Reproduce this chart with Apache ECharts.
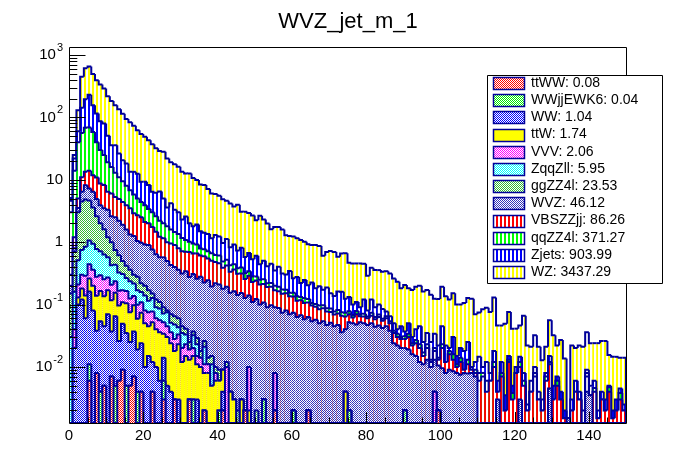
<!DOCTYPE html>
<html>
<head>
<meta charset="utf-8">
<script src="https://cdn.jsdelivr.net/npm/echarts@6/dist/echarts.min.js"></script>
<style>
  html, body { margin: 0; padding: 0; background: #fff; }
  #chart { width: 696px; height: 472px; }
</style>
</head>
<body>
<div id="chart"></div>
<script>
// binning of the histogram: 150 bins of width 1 from 0 to 150
const xMin = 0;
const xMax = 150;
const binWidth = 1;
const yMin = 0.00126;
const yMax = 1343;

const title = 'WVZ_jet_m_1';

// stack order, bottom first
const procNames = ['ttWW', 'WWjjEWK6', 'WW', 'ttW', 'VVV', 'ZqqZll', 'ggZZ4l', 'WVZ', 'VBSZZjj', 'qqZZ4l', 'Zjets', 'WZ'];
const procTotals = [0.08, 0.04, 1.04, 1.74, 2.06, 5.95, 23.53, 46.12, 86.26, 371.27, 903.99, 3437.29];

const ttWW = [
  0, 0, 0, 0, 0, 0.006, 0, 0.008, 0, 0.005,
  0, 0.007, 0, 0.006, 0.009, 0, 0.005, 0.007, 0, 0.004,
  0, 0, 0.004, 0, 0, 0.003, 0, 0, 0.003, 0,
  0, 0, 0.003, 0, 0, 0, 0.002, 0, 0, 0,
  0, 0.002, 0, 0, 0, 0, 0, 0.002, 0, 0,
  0, 0, 0, 0, 0, 0.002, 0, 0, 0, 0,
  0, 0, 0, 0, 0.002, 0, 0, 0, 0, 0,
  0, 0, 0, 0, 0, 0, 0, 0, 0, 0,
  0, 0, 0, 0, 0, 0, 0, 0, 0, 0,
  0, 0, 0, 0, 0, 0, 0, 0, 0, 0.002,
  0, 0, 0, 0, 0, 0, 0, 0, 0, 0,
  0, 0, 0, 0, 0, 0, 0, 0, 0, 0,
  0, 0, 0, 0, 0, 0, 0, 0, 0, 0,
  0, 0, 0, 0, 0, 0, 0, 0, 0, 0,
  0, 0, 0, 0, 0, 0, 0, 0, 0, 0
];
const WWjjEWK6 = [
  0, 0, 0, 0, 0, 0.005, 0, 0, 0.004, 0,
  0, 0, 0.005, 0, 0, 0.005, 0, 0, 0.004, 0,
  0, 0, 0, 0, 0, 0.003, 0, 0, 0, 0,
  0, 0, 0, 0.003, 0, 0, 0, 0, 0, 0,
  0.002, 0, 0, 0, 0, 0, 0, 0, 0, 0,
  0, 0, 0.003, 0, 0, 0, 0, 0, 0, 0,
  0.002, 0, 0, 0, 0, 0, 0, 0, 0, 0,
  0, 0, 0, 0, 0, 0.002, 0, 0, 0, 0,
  0, 0, 0, 0, 0, 0, 0, 0, 0, 0,
  0.002, 0, 0, 0, 0, 0, 0, 0, 0, 0,
  0, 0, 0, 0, 0, 0, 0, 0, 0, 0,
  0, 0, 0, 0, 0, 0, 0, 0, 0, 0,
  0, 0, 0, 0, 0, 0, 0, 0, 0, 0,
  0, 0, 0, 0, 0, 0, 0, 0, 0, 0,
  0, 0, 0, 0, 0, 0, 0, 0, 0, 0
];
const WW = [
  0, 0.02, 0.1, 0.12, 0.06, 0.15, 0.08, 0.03, 0.05, 0.04,
  0.07, 0.03, 0.06, 0.02, 0.04, 0.03, 0.02, 0.03, 0.015, 0.02,
  0.01, 0.015, 0.008, 0.01, 0.006, 0.008, 0.005, 0.004, 0, 0.003,
  0, 0, 0, 0, 0.003, 0, 0, 0, 0, 0,
  0, 0.002, 0, 0, 0, 0, 0, 0, 0, 0,
  0, 0, 0, 0, 0, 0, 0, 0, 0, 0,
  0, 0, 0, 0, 0, 0, 0, 0, 0, 0,
  0, 0, 0, 0, 0, 0, 0, 0, 0, 0,
  0, 0, 0, 0, 0, 0, 0, 0, 0, 0,
  0, 0, 0, 0, 0, 0, 0, 0, 0, 0,
  0, 0, 0, 0, 0, 0, 0, 0, 0, 0,
  0, 0, 0, 0, 0, 0, 0, 0, 0, 0,
  0, 0, 0, 0, 0, 0, 0, 0, 0, 0,
  0, 0, 0, 0, 0, 0, 0, 0, 0, 0,
  0, 0, 0, 0, 0, 0, 0, 0, 0, 0
];
const ttW = [
  0, 0, 0.03, 0.06, 0.08, 0.1, 0.12, 0.1, 0.11, 0.09,
  0.1, 0.08, 0.09, 0.07, 0.06, 0.07, 0.05, 0.06, 0.04, 0.05,
  0.04, 0.03, 0.04, 0.03, 0.03, 0.02, 0.025, 0.02, 0.015, 0.02,
  0.012, 0.015, 0.01, 0.012, 0.008, 0.01, 0.006, 0.008, 0.005, 0.006,
  0.004, 0.005, 0, 0.004, 0.003, 0, 0.003, 0, 0.002, 0,
  0, 0, 0, 0, 0, 0, 0, 0, 0, 0,
  0, 0, 0, 0, 0, 0, 0, 0, 0, 0,
  0, 0, 0, 0, 0.004, 0, 0, 0, 0, 0,
  0, 0, 0, 0, 0, 0, 0, 0, 0, 0,
  0, 0, 0, 0, 0, 0, 0, 0, 0, 0,
  0, 0, 0, 0, 0, 0, 0, 0, 0, 0,
  0, 0, 0, 0, 0, 0, 0, 0, 0, 0,
  0, 0, 0, 0, 0, 0, 0, 0, 0, 0,
  0, 0, 0, 0, 0, 0, 0, 0, 0, 0,
  0, 0, 0, 0, 0, 0, 0, 0, 0, 0
];
const VVV = [
  0, 0.02, 0.08, 0.12, 0.15, 0.18, 0.16, 0.14, 0.13, 0.12,
  0.1, 0.09, 0.08, 0.07, 0.06, 0.06, 0.05, 0.04, 0.04, 0.035,
  0.03, 0.03, 0.025, 0.02, 0.02, 0.018, 0.015, 0.012, 0.01, 0.01,
  0.008, 0.008, 0.006, 0.005, 0.004, 0.004, 0.003, 0.003, 0, 0.002,
  0, 0, 0.01, 0, 0, 0, 0, 0, 0.008, 0,
  0, 0, 0, 0, 0, 0.006, 0, 0, 0, 0,
  0, 0, 0, 0, 0, 0, 0, 0, 0, 0,
  0, 0, 0, 0, 0, 0, 0, 0, 0, 0,
  0, 0, 0, 0, 0, 0, 0, 0, 0, 0,
  0, 0, 0, 0, 0, 0, 0, 0, 0.004, 0,
  0, 0, 0, 0, 0, 0, 0, 0, 0, 0,
  0, 0, 0, 0, 0, 0, 0, 0, 0, 0,
  0, 0, 0, 0, 0, 0, 0, 0, 0, 0,
  0, 0, 0, 0, 0, 0, 0, 0, 0, 0,
  0, 0, 0, 0, 0, 0, 0, 0, 0, 0
];
const ZqqZll = [
  0.03, 0.12, 0.3, 0.45, 0.55, 0.62, 0.58, 0.5, 0.42, 0.38,
  0.3, 0.22, 0.2, 0.16, 0.14, 0.1, 0.11, 0.08, 0.07, 0.05,
  0.06, 0.04, 0.05, 0.03, 0.03, 0.02, 0.03, 0.015, 0.02, 0.01,
  0.015, 0.01, 0, 0.012, 0.008, 0, 0.01, 0, 0.006, 0,
  0, 0, 0, 0, 0, 0, 0, 0, 0, 0,
  0, 0, 0, 0, 0, 0, 0, 0, 0, 0,
  0, 0, 0, 0, 0, 0, 0, 0, 0, 0,
  0, 0, 0, 0, 0, 0, 0, 0, 0, 0,
  0, 0, 0, 0, 0, 0, 0, 0, 0, 0,
  0, 0, 0, 0, 0, 0, 0, 0, 0, 0,
  0, 0, 0, 0, 0, 0, 0, 0, 0, 0,
  0, 0, 0, 0, 0, 0, 0, 0, 0, 0,
  0, 0, 0, 0, 0, 0, 0, 0, 0, 0,
  0, 0, 0, 0, 0, 0, 0, 0, 0, 0,
  0, 0, 0, 0, 0, 0, 0, 0, 0, 0
];
const ggZZ4l = [
  0.12, 0.54, 2.5, 3.75, 4.0, 3.6, 2.66, 1.82, 1.29, 0.97,
  0.63, 0.57, 0.31, 0.29, 0.19, 0.155, 0.125, 0.083, 0.11, 0.061,
  0.06, 0.055, 0.023, 0.03, 0.024, 0.018, 0.005, 0.019, 0.017, 0.017,
  0.01, 0.008, 0.006, 0.005, 0.006, 0.004, 0.005, 0.003, 0.004, 0.002,
  0.003, 0, 0.002, 0, 0, 0.002, 0, 0, 0, 0,
  0.002, 0, 0, 0, 0, 0, 0, 0, 0, 0,
  0, 0, 0, 0, 0, 0, 0, 0, 0, 0,
  0, 0, 0, 0, 0, 0, 0, 0, 0, 0,
  0, 0, 0, 0, 0, 0, 0, 0, 0, 0,
  0, 0, 0, 0, 0, 0, 0, 0, 0, 0,
  0, 0, 0, 0, 0, 0, 0, 0, 0, 0,
  0, 0, 0, 0, 0, 0, 0, 0, 0, 0,
  0, 0, 0, 0, 0, 0, 0, 0, 0, 0,
  0, 0, 0, 0, 0, 0, 0, 0, 0, 0,
  0, 0, 0, 0, 0, 0, 0, 0, 0, 0
];
const WVZ = [
  0.05, 0.1, 0.5, 1.9, 3.3, 2.6, 2.8, 2.3, 1.9, 1.9,
  2.1, 1.6, 1.75, 1.58, 1.4, 1.18, 0.97, 0.95, 0.76, 0.76,
  0.72, 0.73, 0.61, 0.52, 0.46, 0.48, 0.42, 0.36, 0.335, 0.3,
  0.27, 0.3, 0.25, 0.27, 0.23, 0.26, 0.2, 0.23, 0.18, 0.21,
  0.2, 0.17, 0.18, 0.15, 0.16, 0.14, 0.15, 0.125, 0.13, 0.11,
  0.12, 0.1, 0.105, 0.09, 0.097, 0.082, 0.088, 0.074, 0.08, 0.07,
  0.072, 0.063, 0.067, 0.058, 0.061, 0.054, 0.057, 0.05, 0.054, 0.047,
  0.051, 0.045, 0.047, 0.036, 0.036, 0.05, 0.05, 0.048, 0.052, 0.05,
  0.047, 0.05, 0.044, 0.046, 0.042, 0.045, 0.038, 0.024, 0.022, 0.02,
  0.018, 0.019, 0.016, 0.015, 0.012, 0.011, 0.013, 0.01, 0.009, 0.0085,
  0.0095, 0.008, 0.009, 0.0085, 0.008, 0.0075, 0.008, 0.0078, 0.008, 0.007,
  0, 0, 0, 0, 0, 0.003, 0, 0, 0, 0,
  0, 0.003, 0, 0, 0, 0, 0, 0, 0, 0.0045,
  0, 0, 0, 0, 0.0015, 0, 0, 0, 0, 0.004,
  0.0035, 0, 0, 0, 0, 0, 0, 0, 0, 0
];
const VBSZZjj = [
  0.1, 0.4, 1.5, 4.6, 5.3, 6.7, 5.4, 6.0, 4.8, 4.7,
  3.1, 3.4, 2.8, 2.7, 2.5, 2.3, 2.17, 1.65, 1.66, 1.52,
  1.18, 1.1, 0.99, 0.82, 0.65, 0.58, 0.5, 0.52, 0.5, 0.44,
  0.4, 0.36, 0.42, 0.35, 0.4, 0.33, 0.37, 0.3, 0.31, 0.26,
  0.25, 0.21, 0.23, 0.18, 0.2, 0.17, 0.16, 0.13, 0.15, 0.12,
  0.12, 0.11, 0.105, 0.1, 0.095, 0.08, 0.075, 0.075, 0.072, 0.065,
  0.06, 0.052, 0.05, 0.048, 0.045, 0.042, 0.035, 0.034, 0.033, 0.03,
  0.025, 0.024, 0.025, 0.03, 0.024, 0.018, 0.012, 0.022, 0.013, 0.014,
  0.013, 0.016, 0.014, 0.017, 0.013, 0.015, 0.012, 0.011, 0.008, 0.008,
  0.008, 0.011, 0.006, 0.009, 0.008, 0.004, 0.007, 0.002, 0.005, 0.0025,
  0.0105, 0.004, 0.007, 0.0045, 0.002, 0.0045, 0.001, 0.0032, 0.001, 0.001,
  0.006, 0.007, 0.004, 0.006, 0.01, 0.001, 0.007, 0.002, 0.012, 0.003,
  0.008, 0.007, 0.005, 0.002, 0.004, 0.007, 0.003, 0.002, 0.006, 0.0065,
  0.003, 0.005, 0.003, 0.0015, 0, 0.002, 0.004, 0.003, 0, 0.003,
  0, 0.004, 0.0015, 0.003, 0.002, 0.004, 0.0015, 0.002, 0.003, 0.002
];
const qqZZ4l = [
  2.7, 12.8, 35, 45, 55, 55, 46.2, 29.1, 21.3, 16.8,
  12.6, 10, 7.7, 6.1, 5.1, 4.1, 3.3, 2.9, 2.3, 1.9,
  1.8, 1.4, 1.25, 1.14, 0.98, 0.85, 0.8, 0.65, 0.55, 0.55,
  0.45, 0.38, 0.32, 0.29, 0.26, 0.18, 0.17, 0.17, 0.16, 0.14,
  0.15, 0.1, 0.1, 0.09, 0.08, 0.07, 0.08, 0.06, 0.05, 0.05,
  0.04, 0.04, 0.04, 0.03, 0.03, 0.03, 0.03, 0.025, 0.02, 0.02,
  0.02, 0.02, 0.015, 0.02, 0.015, 0.01, 0.01, 0.012, 0.01, 0.01,
  0.01, 0.008, 0.01, 0.009, 0.01, 0.008, 0.006, 0.009, 0.005, 0.007,
  0.004, 0.008, 0.005, 0.006, 0.004, 0.005, 0.004, 0.003, 0.004, 0.002,
  0.003, 0.004, 0.002, 0.003, 0.003, 0.002, 0.003, 0.001, 0.002, 0.001,
  0.003, 0, 0.002, 0.003, 0.001, 0.002, 0, 0.002, 0, 0.001,
  0.002, 0.001, 0.002, 0, 0.002, 0, 0.001, 0, 0.001, 0.0008,
  0, 0.002, 0.001, 0, 0, 0.001, 0, 0, 0.001, 0.001,
  0, 0.001, 0, 0, 0, 0, 0, 0, 0, 0.001,
  0, 0.0006, 0, 0, 0, 0.0007, 0, 0, 0.0008, 0
];
const Zjets = [
  1.6, 8, 20, 87, 127, 162, 99, 75, 57, 55,
  31.6, 19.8, 22.8, 15.3, 11.1, 10.3, 6.6, 7.6, 7.5, 4.9,
  5.4, 4.8, 3.4, 3.6, 4.3, 3.0, 1.8, 2.6, 1.85, 1.65,
  1.15, 1.5, 1.0, 0.85, 1.0, 0.7, 0.65, 0.63, 0.49, 0.68,
  0.62, 0.48, 0.6, 0.4, 0.47, 0.35, 0.42, 0.26, 0.33, 0.25,
  0.32, 0.19, 0.25, 0.19, 0.23, 0.15, 0.21, 0.14, 0.13, 0.19,
  0.11, 0.14, 0.09, 0.12, 0.08, 0.12, 0.08, 0.1, 0.075, 0.1,
  0.065, 0.06, 0.08, 0.085, 0.05, 0.054, 0.032, 0.031, 0.02, 0.049,
  0.016, 0.046, 0.027, 0.031, 0.026, 0.012, 0.011, 0.012, 0.006, 0.015,
  0.006, 0.016, 0.006, 0.013, 0.022, 0.008, 0.012, 0.012, 0.014, 0.008,
  0.022, 0.01, 0.002, 0.014, 0.004, 0.006, 0.009, 0.012, 0.001, 0.003,
  0.0065, 0.002, 0.006, 0.002, 0.006, 0.002, 0.004, 0.0015, 0.002, 0.0012,
  0.002, 0.0025, 0.002, 0.0005, 0.002, 0.002, 0.001, 0.001, 0.001, 0.003,
  0.002, 0.001, 0.001, 0.0005, 0, 0.001, 0.002, 0.001, 0.002, 0.001,
  0.0015, 0.0014, 0.0005, 0.001, 0.001, 0.0003, 0.0005, 0.001, 0.0007, 0.0005
];
const WZ = [
  0.5, 3, 70, 303, 420, 425, 338, 280, 250, 210,
  168, 148, 121, 109, 94, 76, 70, 60, 49.5, 44.7,
  39.7, 34.8, 30.6, 25.8, 22.5, 23, 18.4, 14.8, 14.5, 13.1,
  11.1, 10, 10.6, 8.9, 8.0, 6.9, 6.8, 5.75, 4.85, 4.6,
  4.3, 3.9, 3.5, 3.35, 2.8, 3.25, 2.26, 2.5, 2.25, 2.15,
  1.65, 2.2, 1.8, 1.58, 1.15, 1.4, 1.35, 1.28, 0.99, 0.91,
  0.97, 0.88, 0.86, 0.77, 0.72, 0.67, 0.72, 0.67, 0.43, 0.51,
  0.57, 0.56, 0.42, 0.5, 0.54, 0.336, 0.355, 0.345, 0.365, 0.33,
  0.209, 0.267, 0.266, 0.256, 0.249, 0.264, 0.25, 0.211, 0.191, 0.137,
  0.169, 0.132, 0.141, 0.153, 0.155, 0.136, 0.136, 0.118, 0.09, 0.1,
  0.148, 0.113, 0.1, 0.122, 0.085, 0.08, 0.088, 0.102, 0.114, 0.058,
  0.06, 0.074, 0.077, 0.068, 0.112, 0.04, 0.034, 0.0455, 0.061, 0.036,
  0.031, 0.0315, 0.058, 0.0195, 0.015, 0.022, 0.017, 0.0098, 0.013, 0.041,
  0.027, 0.015, 0.023, 0.0116, 0, 0.019, 0.014, 0.018, 0.019, 0.027,
  0.019, 0.018, 0.022, 0.022, 0.023, 0.0105, 0.0125, 0.0115, 0.0095, 0.0115
];
const procValues = [ttWW, WWjjEWK6, WW, ttW, VVV, ZqqZll, ggZZ4l, WVZ, VBSZZjj, qqZZ4l, Zjets, WZ];

// axis ticks and labels
const xMajorTicks = [0, 20, 40, 60, 80, 100, 120, 140];
const xMinorTicks = [5, 10, 15, 25, 30, 35, 45, 50, 55, 65, 70, 75, 85, 90, 95, 105, 110, 115, 125, 130, 135, 145, 150];
const yMajorTicks = [0.01, 0.1, 1, 10, 100, 1000];
const yTickBase = ['10', '10', '1', '10', '10', '10'];
const yTickExp = ['-2', '-1', '', '', '2', '3'];
const yMinorTicks = [
  0.002, 0.003, 0.004, 0.005, 0.006, 0.007, 0.008, 0.009,
  0.02, 0.03, 0.04, 0.05, 0.06, 0.07, 0.08, 0.09,
  0.2, 0.3, 0.4, 0.5, 0.6, 0.7, 0.8, 0.9,
  2, 3, 4, 5, 6, 7, 8, 9,
  20, 30, 40, 50, 60, 70, 80, 90,
  200, 300, 400, 500, 600, 700, 800, 900
];

// ---- styles ----
const FONT = '"Liberation Sans", Arial, Helvetica, sans-serif';
const lineColor = '#000099';

function checker(color) {
  const c = document.createElement('canvas');
  c.width = 2; c.height = 2;
  const g = c.getContext('2d');
  g.fillStyle = '#fff'; g.fillRect(0, 0, 2, 2);
  g.fillStyle = color; g.fillRect(0, 0, 1, 1); g.fillRect(1, 1, 1, 1);
  return { image: c, repeat: 'repeat' };
}
function vlines(color) {
  const c = document.createElement('canvas');
  c.width = 4; c.height = 4;
  const g = c.getContext('2d');
  g.fillStyle = '#fff'; g.fillRect(0, 0, 4, 4);
  g.fillStyle = color; g.fillRect(0, 0, 2, 4);
  return { image: c, repeat: 'repeat' };
}
const procFills = [
  checker('#ff0000'), checker('#00ee00'), checker('#0000ff'), '#ffff00',
  checker('#ff00ff'), checker('#00ffff'), checker('#33bb33'), checker('#3333bb'),
  vlines('#ff0000'), vlines('#00ff00'), vlines('#0000ff'), vlines('#ffff00')
];

// cumulative sums of the stack
const cumValues = [];
procValues.forEach((vals, k) => {
  cumValues.push(vals.map((v, i) => (k > 0 ? cumValues[k - 1][i] : 0) + v));
});

const gridBox = { left: 69, top: 47, width: 557, height: 376 };

function histSeries(k) {
  const cum = cumValues[k];
  const nBins = cum.length;
  return {
    type: 'custom',
    name: procNames[k],
    coordinateSystem: 'cartesian2d',
    silent: true,
    clip: true,
    encode: { x: [0, 1], y: 2 },
    data: cum.map((v, i) => [xMin + i * binWidth, xMin + (i + 1) * binWidth, v, i > 0 ? cum[i - 1] : 0]),
    renderItem(params, api) {
      const cs = params.coordSys;
      const bottom = cs.y + cs.height;
      const yOf = (v) => (v > yMin ? Math.max(cs.y, api.coord([xMin, v])[1]) : bottom);
      const x0 = api.coord([api.value(0), yMin])[0];
      const x1 = api.coord([api.value(1), yMin])[0];
      const y = yOf(api.value(2));
      const yp = yOf(api.value(3));
      const pts = [[x0, yp], [x0, y], [x1, y]];
      if (params.dataIndex === nBins - 1) pts.push([x1, bottom]);
      return {
        type: 'group',
        children: [
          { type: 'rect', shape: { x: x0, y: y, width: x1 - x0, height: bottom - y }, style: { fill: procFills[k] } },
          { type: 'polyline', shape: { points: pts }, style: { stroke: lineColor, lineWidth: 2, fill: null } }
        ]
      };
    }
  };
}

function tickSeries(values, axis, len) {
  return {
    type: 'custom',
    coordinateSystem: 'cartesian2d',
    silent: true,
    clip: false,
    z: 10,
    encode: { x: 0, y: 1 },
    data: values.map((v) => (axis === 'x' ? [v, yMin] : [xMin, v])),
    renderItem(params, api) {
      const cs = params.coordSys;
      const p = api.coord([api.value(0), api.value(1)]);
      if (axis === 'x') {
        const x = Math.round(p[0]) + 0.5;
        const yb = cs.y + cs.height;
        return { type: 'line', shape: { x1: x, y1: yb, x2: x, y2: yb - len }, style: { stroke: '#000', lineWidth: 1 } };
      }
      const y = Math.round(p[1]) + 0.5;
      return { type: 'line', shape: { x1: cs.x, y1: y, x2: cs.x + len, y2: y }, style: { stroke: '#000', lineWidth: 1 } };
    }
  };
}

const measureCtx = document.createElement('canvas').getContext('2d');
function textWidth(t, font) {
  measureCtx.font = font;
  return measureCtx.measureText(t).width;
}

const xLabelSeries = {
  type: 'custom',
  coordinateSystem: 'cartesian2d',
  silent: true,
  clip: false,
  z: 10,
  encode: { x: 0, y: 1 },
  data: xMajorTicks.map((v) => [v, yMin]),
  renderItem(params, api) {
    const cs = params.coordSys;
    const x = api.coord([api.value(0), yMin])[0];
    return {
      type: 'text',
      style: { text: String(api.value(0)), x: x, y: cs.y + cs.height + 13, textAlign: 'center', textVerticalAlign: 'middle',
        font: '15px ' + FONT, fill: '#000' }
    };
  }
};

const yLabelSeries = {
  type: 'custom',
  coordinateSystem: 'cartesian2d',
  silent: true,
  clip: false,
  z: 10,
  encode: { x: 0, y: 1 },
  data: yMajorTicks.map((v, i) => [xMin, v, i]),
  renderItem(params, api) {
    const cs = params.coordSys;
    const y = api.coord([xMin, api.value(1)])[1];
    const i = api.value(2);
    const right = cs.x - 6;
    const expFont = '11px ' + FONT;
    const ew = yTickExp[i] ? textWidth(yTickExp[i], expFont) + 1 : 0;
    const children = [{
      type: 'text',
      style: { text: yTickBase[i], x: right - ew, y: y, textAlign: 'right', textVerticalAlign: 'middle', font: '15px ' + FONT, fill: '#000' }
    }];
    if (yTickExp[i]) {
      children.push({
        type: 'text',
        style: { text: yTickExp[i], x: right - ew + 1, y: y - 7, textAlign: 'left', textVerticalAlign: 'middle', font: expFont, fill: '#000' }
      });
    }
    return { type: 'group', children };
  }
};

// legend, entries listed bottom of stack first (as in the reference)
const legendX = 487, legendY = 75, legendW = 175, legendH = 208, rowH = 17.2;
const legendElements = [{
  type: 'rect', z: 100,
  shape: { x: legendX + 0.5, y: legendY + 0.5, width: legendW, height: legendH },
  style: { fill: '#fff', stroke: '#000', lineWidth: 1 }
}];
procNames.forEach((name, k) => {
  const cy = legendY + 8 + rowH * k;
  legendElements.push({
    type: 'rect', z: 101,
    shape: { x: legendX + 6.5, y: Math.round(cy - 6) + 0.5, width: 31, height: 12 },
    style: { fill: procFills[k], stroke: lineColor, lineWidth: 1.5 }
  });
  legendElements.push({
    type: 'text', z: 101,
    style: { text: name + ': ' + procTotals[k].toFixed(2), x: legendX + 44, y: cy, textVerticalAlign: 'middle',
      font: '14px ' + FONT, fill: '#000' }
  });
});

const chart = echarts.init(document.getElementById('chart'));
const histList = [];
for (let k = procValues.length - 1; k >= 0; k--) histList.push(histSeries(k));

chart.setOption({
  animation: false,
  backgroundColor: '#fff',
  grid: { left: gridBox.left, top: gridBox.top, width: gridBox.width, height: gridBox.height, show: false },
  xAxis: {
    type: 'value', min: xMin, max: xMax,
    axisLine: { show: false }, axisTick: { show: false }, axisLabel: { show: false }, splitLine: { show: false }
  },
  yAxis: {
    type: 'log', logBase: 10, min: yMin, max: yMax,
    axisLine: { show: false }, axisTick: { show: false }, axisLabel: { show: false }, splitLine: { show: false }
  },
  series: histList.concat([
    tickSeries(xMajorTicks, 'x', 11),
    tickSeries(xMinorTicks, 'x', 5.5),
    tickSeries(yMajorTicks, 'y', 16.5),
    tickSeries(yMinorTicks, 'y', 8.3),
    xLabelSeries,
    yLabelSeries
  ]),
  graphic: [
    {
      type: 'rect', z: 99, silent: true,
      shape: { x: gridBox.left + 0.5, y: gridBox.top + 0.5, width: gridBox.width, height: gridBox.height },
      style: { fill: null, stroke: '#000', lineWidth: 1 }
    },
    {
      type: 'text', z: 100,
      style: { text: title, x: 348, y: 22, textAlign: 'center', textVerticalAlign: 'middle', font: '22px ' + FONT, fill: '#000' }
    }
  ].concat(legendElements)
});
</script>
</body>
</html>
